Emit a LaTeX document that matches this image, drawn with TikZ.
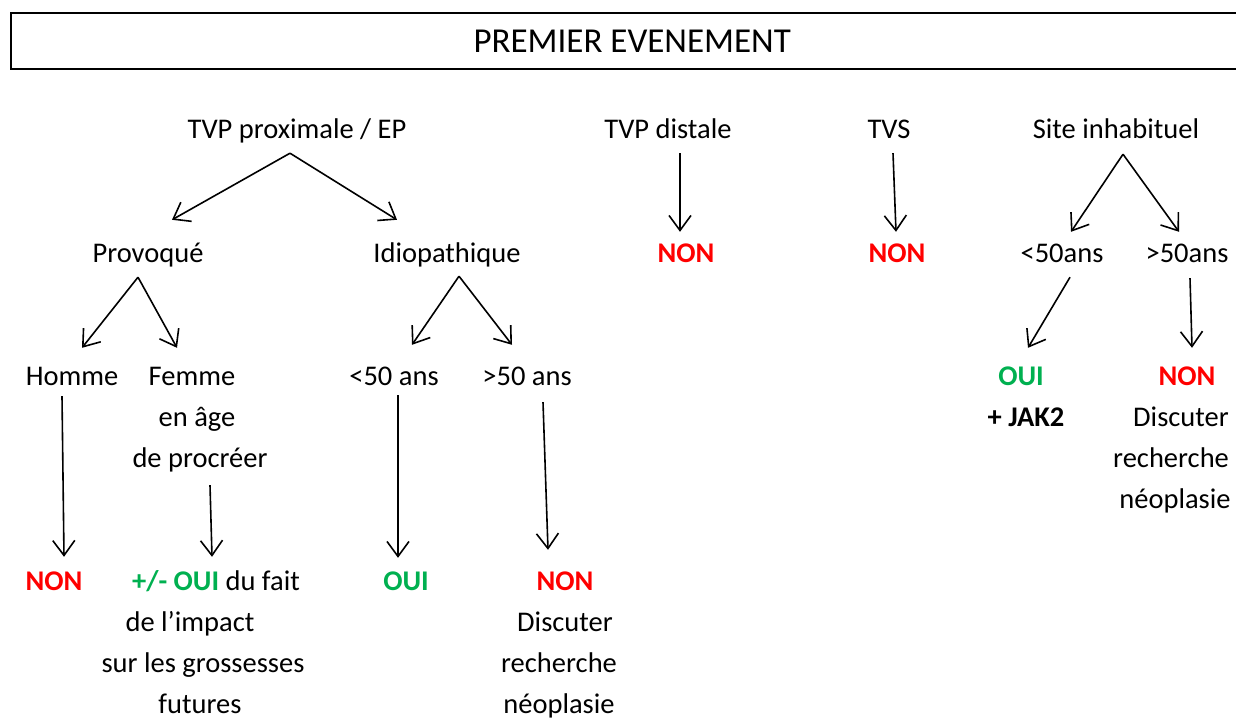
\documentclass[tikz,border=0pt]{standalone}
\usepackage{fontspec}
\setmainfont{Carlito}
\usepackage{xcolor}
\usetikzlibrary{calc,arrows.meta}
\definecolor{nonred}{RGB}{255,0,0}
\definecolor{ouigreen}{RGB}{0,176,80}
\newcommand{\non}{\textcolor{nonred}{\textbf{NON}}}
\newcommand{\oui}{\textcolor{ouigreen}{\textbf{OUI}}}

\begin{document}
\begin{tikzpicture}[x=1pt,y=-1pt,
    txt/.style={inner sep=0pt, text height=20pt, text depth=6pt, anchor=base,
        font=\fontsize{28.5}{41}\selectfont},
    fl/.style={-{Straight Barb[length=15pt,width=22pt]}, line width=1.6pt}]
    \useasboundingbox (0,0) rectangle (1236,720);

    % titre
    \node[draw, line width=2.4pt, minimum width=1242pt, minimum height=56pt,
        anchor=north west, inner sep=0pt, font=\fontsize{35}{42}\selectfont]
        (titre) at (10,12) {PREMIER EVENEMENT};

    % premier niveau
    \node[txt] (tvp) at (297,138) {TVP proximale / EP};
    \node[txt] (dist) at (668,138) {TVP distale};
    \node[txt] (tvs) at (889,138) {TVS};
    \node[txt] (site) at (1116,138) {Site inhabituel};

    % second niveau
    \node[txt] (prov) at (148,262) {Provoqué};
    \node[txt] (idio) at (447,262) {Idiopathique};
    \node[txt] (nondist) at (686,262) {\non};
    \node[txt] (nontvs) at (897,262) {\non};
    \node[txt] (sinf) at (1062,262) {<50ans};
    \node[txt] (ssup) at (1187,262) {>50ans};

    % troisieme niveau
    \node[txt] (hom) at (72,385) {Homme};
    \node[txt] (fem) at (192,385) {Femme};
    \node[txt] (fem2) at (197,426) {en âge};
    \node[txt] (fem3) at (200,467) {de procréer};
    \node[txt] (inf) at (394,385) {<50 ans};
    \node[txt] (sup) at (527,385) {>50 ans};
    \node[txt] (ouisite) at (1021,385) {\oui};
    \node[txt] (jak) at (1026,426) {\textbf{+ JAK2}};
    \node[txt] (nonsite) at (1187,385) {\non};
    \node[txt] (disc1) at (1181,426) {Discuter};
    \node[txt] (rech1) at (1171,467) {recherche};
    \node[txt] (neo1) at (1175,508) {néoplasie};

    % dernier niveau
    \node[txt] (nonhom) at (54,590) {\non};
    \node[txt] (ouifem) at (216,590) {\textcolor{ouigreen}{\textbf{+/- OUI}} du fait};
    \node[txt] (imp) at (190,631) {de l’impact};
    \node[txt] (gros) at (203,672) {sur les grossesses};
    \node[txt] (fut) at (200,713) {futures};
    \node[txt] (ouiinf) at (406,590) {\oui};
    \node[txt] (nonsup) at (565,590) {\non};
    \node[txt] (disc2) at (565,631) {Discuter};
    \node[txt] (rech2) at (559,672) {recherche};
    \node[txt] (neo2) at (559,713) {néoplasie};

    % fleches
    \draw[fl] ($(tvp.south)+(-7,9)$) -- ($(prov.north)+(24,-22)$);
    \draw[fl] ($(tvp.south)+(-7,9)$) -- ($(idio.north)+(-50,-22)$);
    \draw[fl] ($(dist.south)+(12,9)$) -- ($(nondist.north)+(-6,-10)$);
    \draw[fl] ($(tvs.south)+(4,9)$) -- ($(nontvs.north)+(-1,-10)$);
    \draw[fl] ($(site.south)+(7,10)$) -- ($(sinf.north)+(9,-10)$);
    \draw[fl] ($(site.south)+(7,10)$) -- ($(ssup.north)+(-8,-10)$);

    \draw[fl] ($(prov.south)+(-10,9)$) -- ($(hom.north)+(10,-17)$);
    \draw[fl] ($(prov.south)+(-10,9)$) -- ($(fem.north)+(-15,-17)$);
    \draw[fl] ($(idio.south)+(12,8)$) -- ($(inf.north)+(18,-20)$);
    \draw[fl] ($(idio.south)+(12,8)$) -- ($(sup.north)+(-15,-20)$);
    \draw[fl] ($(sinf.south)+(8,9)$) -- ($(ouisite.north)+(7,-17)$);
    \draw[fl] ($(ssup.south)+(3,10)$) -- ($(nonsite.north)+(5,-17)$);

    \draw[fl] ($(hom.south)+(-10,5)$) -- ($(nonhom.north)+(10,-13)$);
    \draw[fl] ($(fem3.south)+(10,12)$) -- ($(ouifem.north)+(-4,-13)$);
    \draw[fl] ($(inf.south)+(4,4)$) -- ($(ouiinf.north)+(-8,-12)$);
    \draw[fl] ($(sup.south)+(16,11)$) -- ($(nonsup.north)+(-17,-20)$);
\end{tikzpicture}
\end{document}
